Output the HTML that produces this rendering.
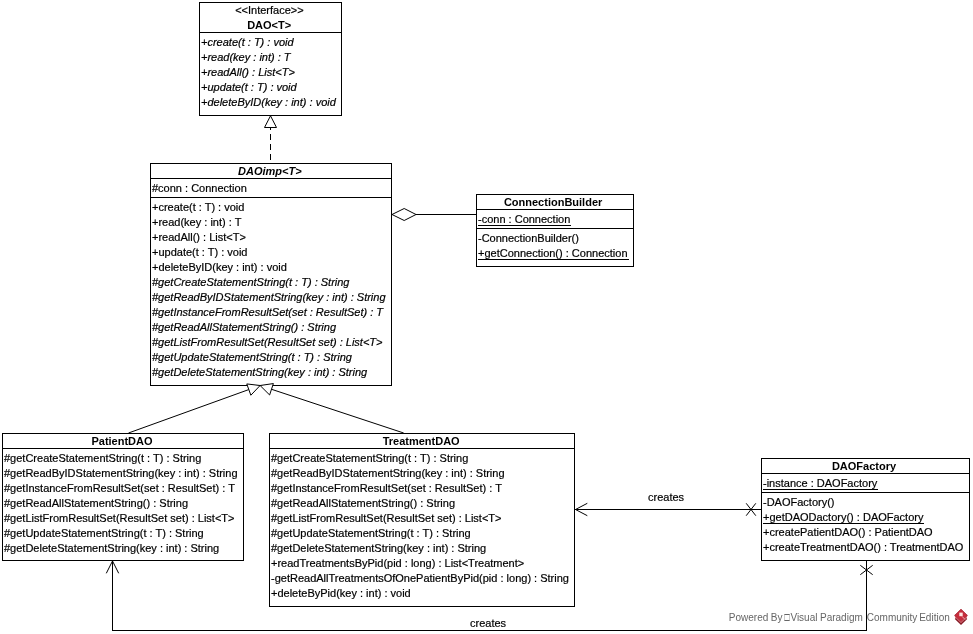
<!DOCTYPE html>
<html><head><meta charset="utf-8"><style>
html,body{margin:0;padding:0;background:#fff;}
body{width:973px;height:634px;position:relative;overflow:hidden;font-family:"Liberation Sans", sans-serif;font-size:11px;color:#000;}
.b{position:absolute;box-sizing:border-box;border:1px solid #000;background:#fff;}
.h{position:absolute;height:1px;background:#000;}
.u{position:absolute;height:1px;background:#000;}
.t{position:absolute;white-space:pre;line-height:15px;height:15px;-webkit-text-stroke:0.2px #000;}
.c{width:400px;text-align:center;}
svg{position:absolute;left:0;top:0;}
.wm{position:absolute;left:729px;top:610px;font-size:10px;line-height:15px;color:#666;white-space:pre;}
.gb{box-sizing:border-box;width:6px;height:7px;border-top:1px solid #666;border-bottom:1px solid #666;border-left:1px solid #ccc;border-right:1px solid #ccc;vertical-align:0px;margin:0 0 0 0;}
</style></head><body>
<div id="w" style="position:absolute;left:0;top:0;width:973px;height:634px;will-change:transform">
<div class="b" style="left:199px;top:2px;width:143px;height:114px"></div>
<div class="h" style="left:199px;top:32px;width:143px"></div>
<div class="t c" style="left:69.39999999999998px;top:3px;">&lt;&lt;Interface&gt;&gt;</div>
<div class="t c" style="left:69.19999999999999px;top:18px;font-weight:bold;-webkit-text-stroke:0;">DAO&lt;T&gt;</div>
<div class="t" style="left:201px;top:35px;font-style:italic;">+create(t : T) : void</div>
<div class="t" style="left:201px;top:50px;font-style:italic;">+read(key : int) : T</div>
<div class="t" style="left:201px;top:65px;font-style:italic;">+readAll() : List&lt;T&gt;</div>
<div class="t" style="left:201px;top:80px;font-style:italic;">+update(t : T) : void</div>
<div class="t" style="left:201px;top:95px;font-style:italic;">+deleteByID(key : int) : void</div>
<div class="b" style="left:150px;top:163px;width:242px;height:223px"></div>
<div class="h" style="left:150px;top:178px;width:242px"></div>
<div class="h" style="left:150px;top:197px;width:242px"></div>
<div class="t c" style="left:69.85000000000002px;top:164px;font-weight:bold;-webkit-text-stroke:0;font-style:italic;">DAOimp&lt;T&gt;</div>
<div class="t" style="left:152px;top:181px;">#conn : Connection</div>
<div class="t" style="left:152px;top:200px;">+create(t : T) : void</div>
<div class="t" style="left:152px;top:215px;">+read(key : int) : T</div>
<div class="t" style="left:152px;top:230px;">+readAll() : List&lt;T&gt;</div>
<div class="t" style="left:152px;top:245px;">+update(t : T) : void</div>
<div class="t" style="left:152px;top:260px;">+deleteByID(key : int) : void</div>
<div class="t" style="left:152px;top:275px;font-style:italic;">#getCreateStatementString(t : T) : String</div>
<div class="t" style="left:152px;top:290px;font-style:italic;">#getReadByIDStatementString(key : int) : String</div>
<div class="t" style="left:152px;top:305px;font-style:italic;">#getInstanceFromResultSet(set : ResultSet) : T</div>
<div class="t" style="left:152px;top:320px;font-style:italic;">#getReadAllStatementString() : String</div>
<div class="t" style="left:152px;top:335px;font-style:italic;">#getListFromResultSet(ResultSet set) : List&lt;T&gt;</div>
<div class="t" style="left:152px;top:350px;font-style:italic;">#getUpdateStatementString(t : T) : String</div>
<div class="t" style="left:152px;top:365px;font-style:italic;">#getDeleteStatementString(key : int) : String</div>
<div class="b" style="left:476px;top:194px;width:158px;height:73px"></div>
<div class="h" style="left:476px;top:209px;width:158px"></div>
<div class="h" style="left:476px;top:228px;width:158px"></div>
<div class="t c" style="left:353.1px;top:195px;font-weight:bold;-webkit-text-stroke:0;">ConnectionBuilder</div>
<div class="t" style="left:478px;top:212px;">-conn : Connection</div>
<div class="u" style="left:478px;top:225px;width:93px"></div>
<div class="t" style="left:478px;top:231px;">-ConnectionBuilder()</div>
<div class="t" style="left:478px;top:246px;">+getConnection() : Connection</div>
<div class="u" style="left:478px;top:259px;width:151px"></div>
<div class="b" style="left:2px;top:433px;width:242px;height:128px"></div>
<div class="h" style="left:2px;top:448px;width:242px"></div>
<div class="t c" style="left:-78px;top:434px;font-weight:bold;-webkit-text-stroke:0;">PatientDAO</div>
<div class="t" style="left:4px;top:451px;">#getCreateStatementString(t : T) : String</div>
<div class="t" style="left:4px;top:466px;">#getReadByIDStatementString(key : int) : String</div>
<div class="t" style="left:4px;top:481px;">#getInstanceFromResultSet(set : ResultSet) : T</div>
<div class="t" style="left:4px;top:496px;">#getReadAllStatementString() : String</div>
<div class="t" style="left:4px;top:511px;">#getListFromResultSet(ResultSet set) : List&lt;T&gt;</div>
<div class="t" style="left:4px;top:526px;">#getUpdateStatementString(t : T) : String</div>
<div class="t" style="left:4px;top:541px;">#getDeleteStatementString(key : int) : String</div>
<div class="b" style="left:269px;top:433px;width:306px;height:174px"></div>
<div class="h" style="left:269px;top:448px;width:306px"></div>
<div class="t c" style="left:221.14999999999998px;top:434px;font-weight:bold;-webkit-text-stroke:0;">TreatmentDAO</div>
<div class="t" style="left:271px;top:451px;">#getCreateStatementString(t : T) : String</div>
<div class="t" style="left:271px;top:466px;">#getReadByIDStatementString(key : int) : String</div>
<div class="t" style="left:271px;top:481px;">#getInstanceFromResultSet(set : ResultSet) : T</div>
<div class="t" style="left:271px;top:496px;">#getReadAllStatementString() : String</div>
<div class="t" style="left:271px;top:511px;">#getListFromResultSet(ResultSet set) : List&lt;T&gt;</div>
<div class="t" style="left:271px;top:526px;">#getUpdateStatementString(t : T) : String</div>
<div class="t" style="left:271px;top:541px;">#getDeleteStatementString(key : int) : String</div>
<div class="t" style="left:271px;top:556px;">+readTreatmentsByPid(pid : long) : List&lt;Treatment&gt;</div>
<div class="t" style="left:271px;top:571px;">-getReadAllTreatmentsOfOnePatientByPid(pid : long) : String</div>
<div class="t" style="left:271px;top:586px;">+deleteByPid(key : int) : void</div>
<div class="b" style="left:761px;top:458px;width:209px;height:103px"></div>
<div class="h" style="left:761px;top:473px;width:209px"></div>
<div class="h" style="left:761px;top:492px;width:209px"></div>
<div class="t c" style="left:664px;top:459px;font-weight:bold;-webkit-text-stroke:0;">DAOFactory</div>
<div class="t" style="left:763px;top:476px;">-instance : DAOFactory</div>
<div class="u" style="left:763px;top:489px;width:115px"></div>
<div class="t" style="left:763px;top:495px;">-DAOFactory()</div>
<div class="t" style="left:763px;top:510px;">+getDAODactory() : DAOFactory</div>
<div class="u" style="left:763px;top:523px;width:161px"></div>
<div class="t" style="left:763px;top:525px;">+createPatientDAO() : PatientDAO</div>
<div class="t" style="left:763px;top:540px;">+createTreatmentDAO() : TreatmentDAO</div>
<div class="t" style="left:648px;top:490px;">creates</div>
<div class="t" style="left:470px;top:616px;">creates</div>
<div class="wm" style="left:728.8px">Powered</div>
<div class="wm" style="left:770.8px">By</div>
<div class="gb" style="position:absolute;left:784px;top:614px"></div>
<div class="wm" style="left:790.4px">Visual</div>
<div class="wm" style="left:820px">Paradigm</div>
<div class="wm" style="left:866.8px">Community</div>
<div class="wm" style="left:919.2px">Edition</div>
</div>
<svg width="973" height="634" stroke="#000" stroke-width="1" fill="none">
<rect x="270" y="128" width="1" height="2" fill="#000" stroke="none"/>
<rect x="270" y="134" width="1" height="6" fill="#000" stroke="none"/>
<rect x="270" y="144" width="1" height="6" fill="#000" stroke="none"/>
<rect x="270" y="154" width="1" height="6" fill="#000" stroke="none"/>
<polygon points="270.50,115.80 264.50,127.50 276.50,127.50" fill="#fff"/>
<polygon points="392.00,214.50 404.20,208.50 416.00,214.50 404.20,220.50" fill="#fff"/>
<rect x="416" y="214" width="60" height="1" fill="#000" stroke="none"/>
<line x1="248.8127444545877" y1="389.57404740430917" x2="128.5" y2="433" />
<polygon points="260.10,385.50 246.78,383.93 250.85,395.22" fill="#fff"/>
<line x1="271.4928966196656" y1="389.26854170915124" x2="403.7" y2="433" />
<polygon points="260.10,385.50 269.61,394.96 273.38,383.57" fill="#fff"/>
<rect x="575" y="509" width="186" height="1" fill="#000" stroke="none"/>
<polyline points="587.30,503.30 575.50,509.50 587.30,515.70" fill="none"/>
<line x1="746.2" y1="503.3" x2="755.8" y2="515.7" />
<line x1="755.8" y1="503.3" x2="746.2" y2="515.7" />
<rect x="866" y="561" width="1" height="70" fill="#000" stroke="none"/>
<rect x="112" y="630" width="755" height="1" fill="#000" stroke="none"/>
<rect x="112" y="561" width="1" height="70" fill="#000" stroke="none"/>
<polyline points="106.30,573.30 112.50,561.00 118.70,573.30" fill="none"/>
<line x1="860.3" y1="565.3" x2="872.7" y2="574.7" />
<line x1="872.7" y1="565.3" x2="860.3" y2="574.7" />
<g stroke="none">
<polygon points="954.6,615.4 961,621.6 967.4,615.4 966.7,618.2 961,623.8 955.3,618.2" fill="#e07a82"/>
<polygon points="961,609.2 967.4,615.4 961,621.6 954.6,615.4" fill="#c62c3c" stroke="#a3202e" stroke-width="0.8"/>
<polyline points="955.3,618.4 961,624 966.7,618.4" fill="none" stroke="#861b26" stroke-width="1.4"/>
<rect x="959.3" y="612.6" width="3.4" height="3.6" fill="#fde6e2"/>
<line x1="962" y1="616.4" x2="965.2" y2="619.6" stroke="#f0aab0" stroke-width="1"/>
</g>
</svg>

</body></html>
